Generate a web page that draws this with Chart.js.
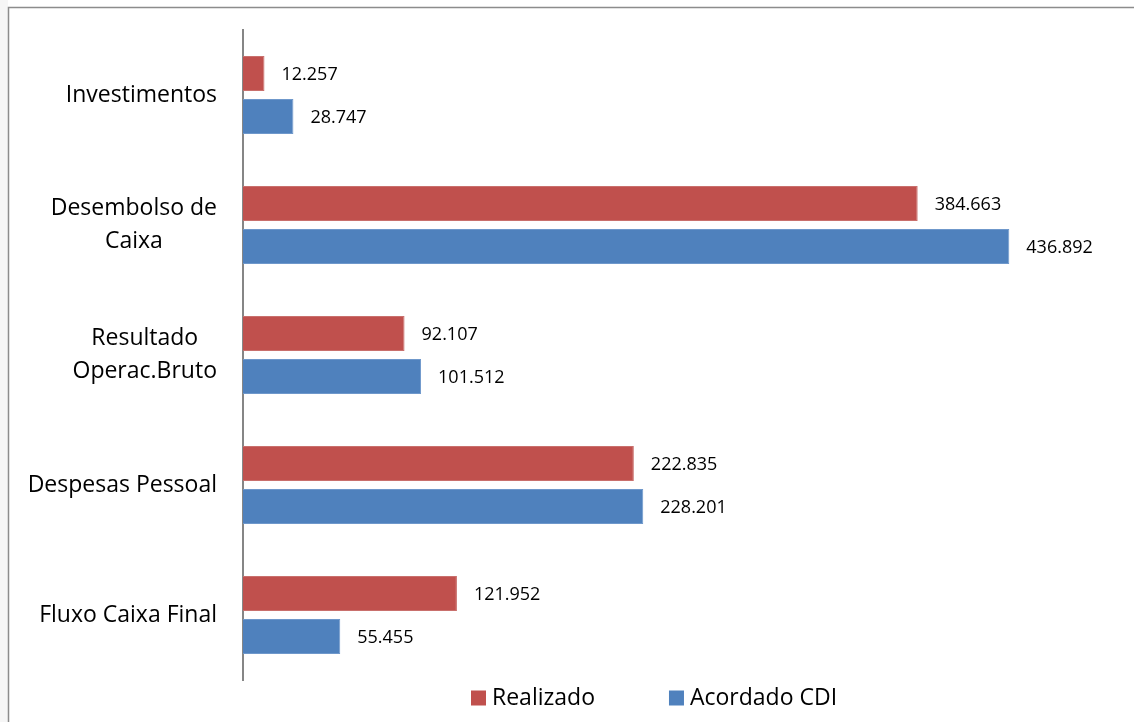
<!DOCTYPE html>
<html>
<head>
<meta charset="utf-8">
<script src="https://cdn.jsdelivr.net/npm/chart.js@4/dist/chart.umd.min.js"></script>
<style>
  html, body { margin: 0; padding: 0; background: #ffffff; }
  #c { display: block; }
</style>
</head>
<body>
<canvas id="c" width="1134" height="722"></canvas>
<script>
// ---- data ----
const categories = [
  ["Investimentos"],
  ["Desembolso de", "Caixa"],
  ["Resultado", "Operac.Bruto"],
  ["Despesas Pessoal"],
  ["Fluxo Caixa Final"]
];
const seriesNames = ["Realizado", "Acordado CDI"];
const realizado = [12257, 384663, 92107, 222835, 121952];
const acordadoCDI = [28747, 436892, 101512, 228201, 55455];
const axisMin = 0;
const axisMax = 500000;

const FONT = "'Open Sans', 'Noto Sans', sans-serif";
const fmt = v => v.toLocaleString('pt-BR');

const framePlugin = {
  id: 'frame',
  beforeDraw(chart) {
    const ctx = chart.ctx;
    ctx.save();
    ctx.fillStyle = '#f6f6f6';
    ctx.fillRect(0, 0, 8, chart.height);
    ctx.strokeStyle = '#8c8c8c';
    ctx.lineWidth = 1.5;
    ctx.strokeRect(8.5, 7.5, chart.width + 20, chart.height + 20);
    ctx.restore();
  }
};

const catLabelPlugin = {
  id: 'catLabels',
  afterDraw(chart) {
    const ctx = chart.ctx;
    const y = chart.scales.y;
    ctx.save();
    ctx.font = "23px " + FONT;
    ctx.fillStyle = '#000';
    ctx.textBaseline = 'middle';
    ctx.textAlign = 'center';
    const rightEdge = 217, lh = 33;
    chart.data.labels.forEach((lines, i) => {
      const cy = y.getPixelForValue(i);
      const maxW = Math.max(...lines.map(l => ctx.measureText(l).width));
      const cx = rightEdge - maxW / 2;
      lines.forEach((l, j) => {
        ctx.fillText(l, cx, cy + (j - (lines.length - 1) / 2) * lh);
      });
    });
    ctx.restore();
  }
};

const valueLabelPlugin = {
  id: 'valueLabels',
  afterDatasetsDraw(chart) {
    const ctx = chart.ctx;
    ctx.save();
    ctx.font = "18px " + FONT;
    ctx.fillStyle = '#000';
    ctx.textBaseline = 'middle';
    ctx.textAlign = 'left';
    chart.data.datasets.forEach((ds, di) => {
      const meta = chart.getDatasetMeta(di);
      meta.data.forEach((bar, i) => {
        ctx.fillText(fmt(ds.data[i]), bar.x + 17, bar.y + 1);
      });
    });
    ctx.restore();
  }
};

const legendPlugin = {
  id: 'customLegend',
  afterDraw(chart) {
    const ctx = chart.ctx;
    ctx.save();
    ctx.font = "23px " + FONT;
    ctx.textBaseline = 'middle';
    ctx.textAlign = 'left';
    let x = 471;
    const cy = 698, box = 15, gap = 6, itemGap = 74;
    chart.data.datasets.forEach(ds => {
      ctx.fillStyle = ds.backgroundColor;
      ctx.fillRect(x, cy - box / 2, box, box);
      ctx.fillStyle = '#000';
      ctx.fillText(ds.label, x + box + gap, cy);
      x += box + gap + ctx.measureText(ds.label).width + itemGap;
    });
    ctx.restore();
  }
};

new Chart(document.getElementById('c'), {
  type: 'bar',
  data: {
    labels: categories,
    datasets: [
      { label: seriesNames[0], data: realizado, backgroundColor: '#C0504D',
        borderColor: '#C9706D', borderWidth: 1, borderSkipped: 'start',
        categoryPercentage: 0.662, barPercentage: 0.81 },
      { label: seriesNames[1], data: acordadoCDI, backgroundColor: '#4F81BD',
        borderColor: '#6F98CB', borderWidth: 1, borderSkipped: 'start',
        categoryPercentage: 0.662, barPercentage: 0.81 }
    ]
  },
  options: {
    indexAxis: 'y',
    responsive: false,
    animation: false,
    layout: { padding: { top: 30, bottom: 42, left: 0, right: 14 } },
    plugins: {
      legend: { display: false },
      tooltip: { enabled: false }
    },
    scales: {
      x: { display: false, min: axisMin, max: axisMax },
      y: {
        ticks: { display: false },
        grid: { display: false, drawTicks: false },
        border: { display: true, color: '#868686', width: 2 },
        afterFit(scale) { scale.width = 243; }
      }
    }
  },
  plugins: [framePlugin, catLabelPlugin, valueLabelPlugin, legendPlugin]
});
</script>
</body>
</html>
